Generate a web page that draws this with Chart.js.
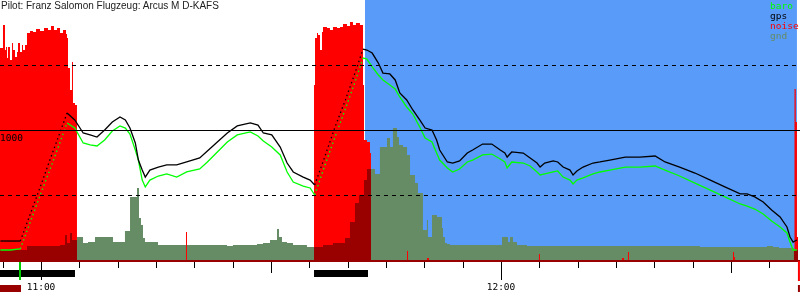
<!DOCTYPE html>
<html>
<head>
<meta charset="utf-8">
<script src="https://cdn.jsdelivr.net/npm/chart.js@4.4.1/dist/chart.umd.min.js"></script>
<style>
  html, body { margin: 0; padding: 0; background: #fff; }
  #wrap { position: relative; width: 800px; height: 300px; }
  #title { position: absolute; left: 1px; top: 0; font: 10px/12px "Liberation Sans", Arial, sans-serif; color: #222; white-space: nowrap; }
  #legend { position: absolute; left: 770px; top: 1px; font: 9.5px/10px "DejaVu Sans Mono", monospace; white-space: nowrap; }
</style>
</head>
<body>
<div id="wrap">
  <canvas id="flight" width="800" height="300"></canvas>
  <div id="title">Pilot: Franz Salomon Flugzeug: Arcus M D-KAFS</div>
  <div id="legend"></div>
</div>
<script>
/* ── Flight data (time = minutes since midnight) ── */

const altTime = [654.7, 656.0, 657.3, 658.6, 659.9, 661.2, 662.5, 663.4, 664.4, 665.5,
  666.4, 667.3, 668.3, 669.3, 670.3, 671.0, 671.6, 672.3, 672.7, 673.2,
  673.6, 674.2, 675.3, 676.4, 677.7, 679.0, 680.7, 681.7, 683.0, 684.3,
  685.6, 687.3, 688.3, 689.0, 690.1, 691.2, 692.1, 692.9, 694.2, 695.1,
  695.7, 697.0, 698.3, 699.7, 701.0, 702.0, 702.5, 703.2, 704.0, 704.6,
  705.5, 706.2, 706.8, 707.7, 708.5, 709.4, 710.1, 711.0, 711.6, 712.0,
  713.0, 713.7, 714.6, 715.6, 716.3, 717.6, 718.8, 719.9, 720.5, 720.8,
  721.4, 722.9, 723.8, 724.7, 725.1, 725.7, 726.8, 727.4, 728.1, 729.0,
  729.4, 729.9, 730.7, 732.0, 732.9, 734.2, 736.2, 738.1, 740.1, 741.4,
  743.3, 745.3, 747.3, 749.2, 751.2, 752.1, 753.1, 754.2, 755.3, 756.4,
  757.3, 757.7, 758.1, 758.6];

const gpsAlt = [146, 146, 146, 354, 562, 777, 985, 1131, 1077, 977,
  962, 946, 1000, 1062, 1100, 1077, 1015, 900, 769, 692,
  638, 692, 715, 731, 731, 754, 785, 838, 908, 977,
  1031, 1054, 1038, 977, 962, 869, 746, 677, 638, 615,
  577, 792, 1015, 1231, 1446, 1623, 1615, 1592, 1515, 1438,
  1431, 1385, 1285, 1231, 1154, 1077, 1015, 1000, 923, 846,
  754, 746, 762, 823, 846, 892, 892, 846, 823, 792,
  831, 823, 785, 746, 715, 746, 762, 754, 715, 692,
  654, 685, 715, 746, 754, 769, 792, 792, 800, 754,
  715, 669, 615, 562, 508, 508, 485, 446, 385, 331,
  254, 177, 138, 154];

const baroAlt = [77, 77, 85, 292, 500, 700, 908, 1054, 1015, 900,
  885, 877, 923, 992, 1031, 1015, 969, 846, 769, 615,
  562, 615, 646, 662, 638, 677, 700, 754, 831, 908,
  962, 985, 954, 915, 869, 808, 677, 600, 569, 554,
  500, 723, 938, 1162, 1377, 1554, 1546, 1485, 1423, 1385,
  1346, 1315, 1254, 1177, 1123, 1023, 938, 908, 823, 769,
  708, 677, 700, 754, 769, 808, 815, 777, 754, 708,
  754, 746, 723, 677, 654, 662, 677, 685, 638, 615,
  585, 615, 631, 662, 677, 692, 715, 715, 723, 692,
  646, 592, 538, 485, 431, 415, 392, 354, 300, 254,
  208, 138, 77, 77];

const noiseTime = [654.65, 655.04, 655.30, 655.43, 655.56, 655.69, 655.95, 656.22, 656.35, 656.61,
  656.87, 657.00, 657.26, 657.52, 657.65, 657.91, 658.17, 658.56, 658.95, 659.35,
  659.87, 660.39, 660.91, 661.30, 661.69, 662.09, 662.48, 662.87, 663.26, 663.39,
  663.52, 663.78, 664.04, 664.17, 664.43, 664.69,
  678.91, 679.04,
  695.61, 695.74, 696.00, 696.13, 696.39, 696.65, 696.78, 697.30, 697.69, 698.08,
  698.61, 699.00, 699.39, 699.91, 700.30, 700.69, 701.08, 701.60, 702.00, 702.13,
  702.52, 702.91, 703.04,
  707.74, 707.87, 710.34, 710.60, 724.95, 725.08, 735.78, 736.04, 736.56, 736.69,
  750.26, 750.39, 750.52,
  758.28, 758.45, 758.60, 758.75];

const noiseLevel = [81.5, 90.4, 80.8, 81.9, 77.7, 81.9, 76.9, 83.5, 80.8, 78.1,
  80.0, 83.5, 80.0, 82.7, 80.8, 82.7, 87.3, 88.1, 87.7, 88.8,
  88.1, 89.2, 88.5, 90.0, 88.5, 89.2, 87.3, 88.5, 86.9, 85.4,
  73.8, 65.4, 76.2, 60.4, 59.6, 0,
  10.8, 0,
  67.3, 85.4, 87.3, 86.5, 80.8, 87.7, 89.6, 89.2, 88.5, 89.6,
  89.2, 89.6, 90.8, 90.0, 91.5, 90.4, 91.2, 90.4, 67.3, 46.2,
  45.4, 41.2, 0,
  3.5, 0, 0.8, 0, 2.3, 0, 0.8, 0, 3.1, 0,
  3.1, 1.2, 0,
  65.8, 53.1, 8.8, 0];

const gndTime = [654.65, 658.17, 662.48, 663.13, 663.39, 663.78, 664.04, 664.69, 665.48, 666.13,
  667.04, 669.39, 670.95, 671.61, 672.52, 672.78, 673.04, 673.30, 673.56, 675.26,
  684.26, 685.04, 688.17, 688.95, 689.87, 690.78, 691.04, 691.43, 692.08, 692.87,
  694.69, 695.61, 696.78, 698.08, 699.65, 700.30, 700.95, 701.47, 702.13, 702.52,
  703.04, 703.56, 704.21, 705.13, 705.52, 705.91, 706.43, 706.69, 707.21, 707.74,
  708.13, 708.78, 709.17, 709.82, 710.34, 710.47, 711.00, 711.65, 712.30, 712.43,
  712.69, 712.95, 713.34, 720.13, 720.91, 721.17, 721.56, 722.08, 723.39, 745.95,
  754.69, 755.47, 756.26, 758.21, 758.75];

const gndLevel = [3.8, 5.4, 5.8, 9.6, 6.5, 10.4, 7.7, 8.8, 6.5, 6.9,
  8.8, 6.9, 11.2, 24.2, 27.7, 16.2, 13.5, 8.5, 6.9, 5.8,
  5.4, 5.8, 6.2, 6.5, 7.7, 11.9, 8.8, 6.9, 6.5, 5.8,
  5.0, 5.0, 5.8, 6.5, 8.5, 14.6, 21.9, 25.0, 30.8, 35.0,
  35.0, 33.1, 43.5, 46.9, 43.5, 50.8, 47.3, 44.2, 43.5, 40.4,
  32.7, 29.6, 25.8, 11.5, 15.4, 8.8, 17.3, 16.5, 12.3, 8.8,
  6.5, 6.2, 5.8, 8.8, 6.9, 8.8, 6.9, 5.8, 5.4, 5.0,
  5.4, 5.0, 4.6, 3.8, 0];

const motorRuns = [[654.65, 664.69], [695.61, 703.04], [758.21, 758.8]];
const engineBars = [[654.65, 664.43], [695.61, 702.65]];
const taskWindow = [702.26, 758.6];
const launchTime = 657.26;
const landingTime = 758.73;

const refLines = [500, 1000, 1500];
const refLabels = { 1000: '1000' };
const tickTimes = [655, 660, 665, 670, 675, 680, 685, 690, 695, 700, 705, 710, 715,
  720, 725, 730, 735, 740, 745, 750, 755];
const tickLabels = { 660: '11:00', 720: '12:00' };

const legendNames = ['baro', 'gps', 'noise', 'gnd'];
const legendColors = ['#00ff00', '#000000', '#ff0000', '#658c65'];

/* ── helpers ── */

const toXY = (ts, vs) => ts.map((t, i) => ({ x: t, y: vs[i] }));
const inRun = t => motorRuns.some(([a, b]) => t >= a && t < b);
const gndMotor = gndLevel.map((v, i) => inRun(gndTime[i]) ? v : 0);

// fast climbs come out as sparse dots in the logger plot
const climbDash = ctx => {
  const rate = (ctx.p1.parsed.y - ctx.p0.parsed.y) / (ctx.p1.parsed.x - ctx.p0.parsed.x);
  return rate > 120 ? [1.5, 3] : undefined;
};

function areaSet(label, ts, vs, color, order) {
  return {
    label, data: toXY(ts, vs), yAxisID: 'yn', stepped: true, fill: 'origin',
    backgroundColor: color, borderColor: 'rgba(0,0,0,0)', borderWidth: 0,
    pointRadius: 0, order
  };
}

function lineSet(label, vs, color, order) {
  return {
    label, data: toXY(altTime, vs), yAxisID: 'y', fill: false,
    borderColor: color, borderWidth: 1.3, pointRadius: 0, tension: 0,
    segment: { borderDash: climbDash }, order
  };
}

/* ── decorations: task window, reference lines, time axis ── */

const decor = {
  id: 'decor',
  beforeDatasetsDraw(chart) {
    const { ctx, chartArea: a, scales: { x } } = chart;
    const x0 = x.getPixelForValue(taskWindow[0]), x1 = x.getPixelForValue(taskWindow[1]);
    ctx.save();
    ctx.fillStyle = '#589bf8';
    ctx.fillRect(x0, a.top, x1 - x0, a.bottom - a.top);
    ctx.restore();
  },
  afterDatasetsDraw(chart) {
    const { ctx, chartArea: a, scales: { x, y } } = chart;
    ctx.save();

    ctx.strokeStyle = '#000';
    ctx.lineWidth = 1.2;
    refLines.forEach(v => {
      const py = Math.round(y.getPixelForValue(v)) + 0.5;
      ctx.setLineDash(v === 1000 ? [] : [4, 4]);
      ctx.beginPath(); ctx.moveTo(a.left, py); ctx.lineTo(a.right, py); ctx.stroke();
      if (refLabels[v]) {
        ctx.fillStyle = '#000';
        ctx.font = '9.5px "DejaVu Sans Mono", monospace';
        ctx.fillText(refLabels[v], 0, py + 10);
      }
    });
    ctx.setLineDash([]);

    // baseline
    ctx.fillStyle = '#990000';
    ctx.fillRect(a.left, a.bottom, a.right - a.left, 2);

    // ticks
    ctx.strokeStyle = '#000';
    ctx.lineWidth = 1;
    tickTimes.forEach(t => {
      const px = Math.round(x.getPixelForValue(t)) + 0.5;
      const len = t % 60 === 0 ? 18 : t % 30 === 0 ? 11 : 6;
      ctx.beginPath(); ctx.moveTo(px, a.bottom + 2); ctx.lineTo(px, a.bottom + 2 + len); ctx.stroke();
    });

    // engine running bars
    ctx.fillStyle = '#000';
    engineBars.forEach(([s, e]) => {
      const x0 = x.getPixelForValue(s), x1 = x.getPixelForValue(e);
      ctx.fillRect(x0, a.bottom + 10, x1 - x0, 7);
    });

    // launch / landing markers
    const xl = x.getPixelForValue(launchTime);
    ctx.fillStyle = '#00cc00';
    ctx.fillRect(xl - 1, a.bottom + 2, 2, 18);
    ctx.fillStyle = '#990000';
    ctx.fillRect(a.left, a.bottom + 25, xl + 1 - a.left, 7);
    const xe = x.getPixelForValue(landingTime);
    ctx.fillStyle = '#ff0000';
    ctx.fillRect(xe, a.bottom + 1, 2, 20);
    ctx.fillStyle = '#990000';
    ctx.fillRect(xe, a.bottom + 25, 2, 7);

    // time labels
    ctx.fillStyle = '#000';
    ctx.font = '9.5px "DejaVu Sans Mono", monospace';
    ctx.textAlign = 'center';
    tickTimes.forEach(t => {
      if (tickLabels[t]) ctx.fillText(tickLabels[t], x.getPixelForValue(t), a.bottom + 30);
    });
    ctx.restore();
  }
};

/* ── legend ── */

document.getElementById('legend').innerHTML = legendNames
  .map((n, i) => '<div style="color:' + legendColors[i] + '">' + n + '</div>').join('');

/* ── chart ── */

new Chart(document.getElementById('flight'), {
  type: 'line',
  data: {
    datasets: [
      lineSet('gps', gpsAlt, '#000000', 1),
      lineSet('baro', baroAlt, '#00ff00', 2),
      areaSet('gnd motor', gndTime, gndMotor, '#990000', 3),
      areaSet('noise', noiseTime, noiseLevel, '#ff0000', 4),
      areaSet('gnd', gndTime, gndLevel, '#658c65', 5)
    ]
  },
  options: {
    responsive: false, animation: false, devicePixelRatio: 1,
    layout: { padding: { left: 0, right: 0, top: 0, bottom: 40 } },
    plugins: { legend: { display: false }, tooltip: { enabled: false } },
    scales: {
      x: { type: 'linear', min: 654.65, max: 759.0, display: false },
      y: { min: 0, max: 2000, display: false },
      yn: { min: 0, max: 100, display: false }
    }
  },
  plugins: [decor]
});
</script>
</body>
</html>
